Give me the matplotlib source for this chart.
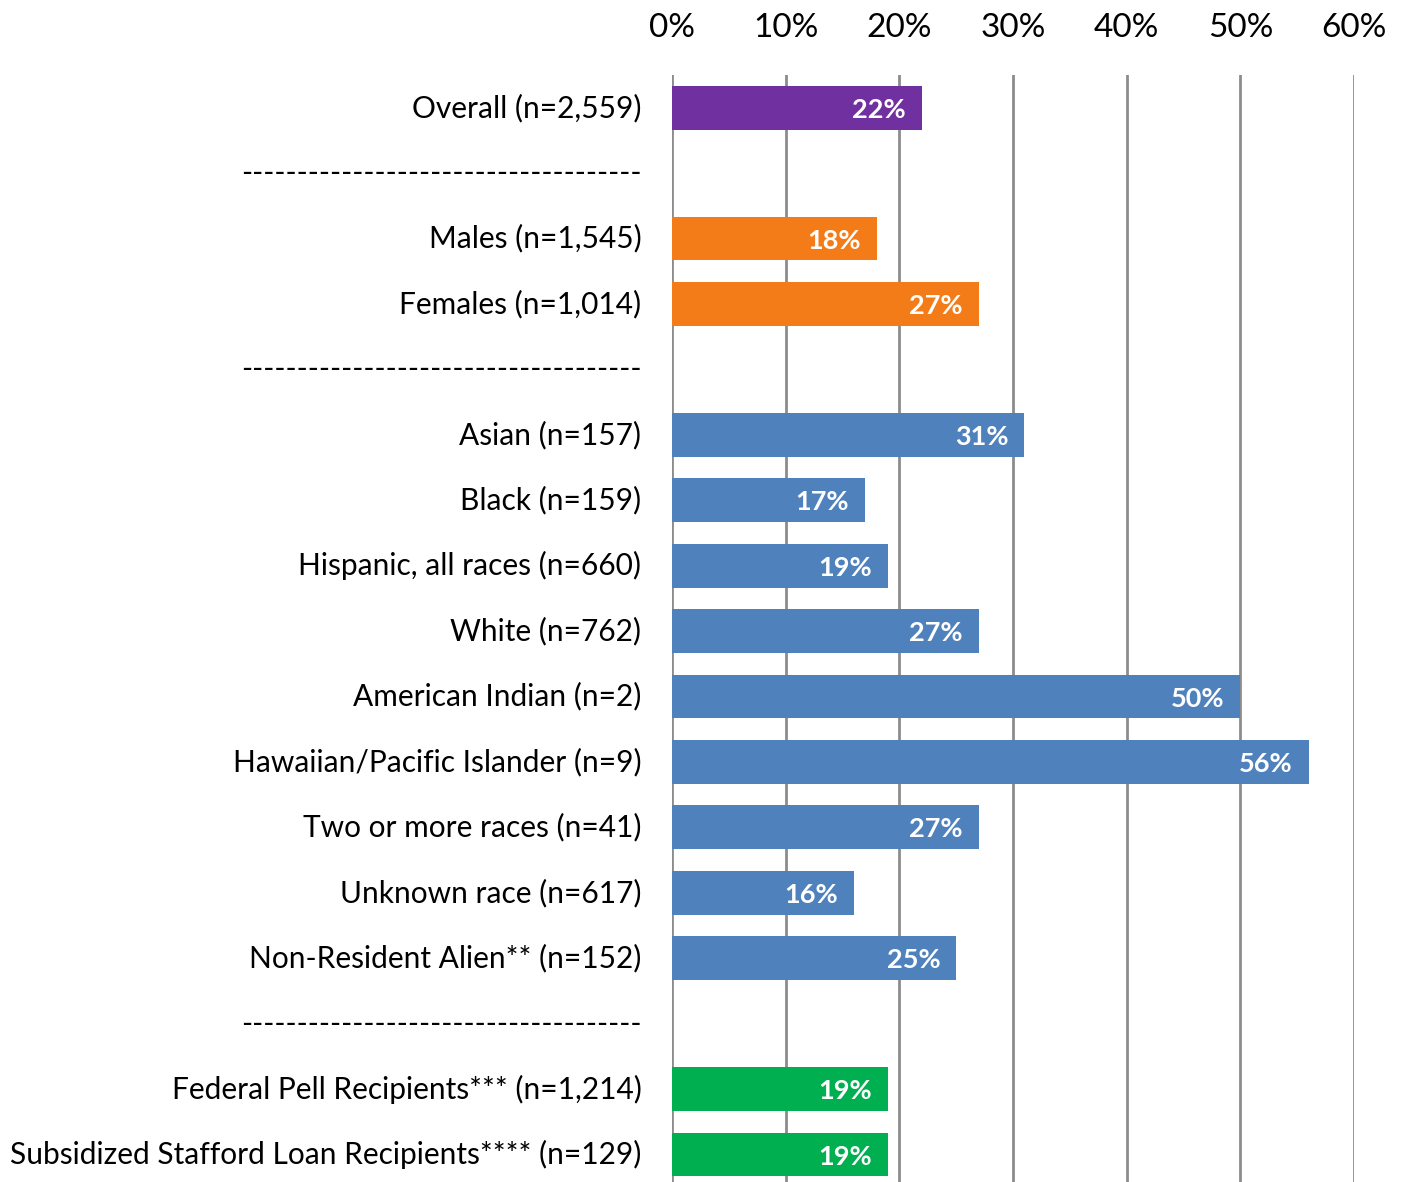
from matplotlib import pyplot as plt
import numpy as np

plt.rcParams['font.family'] = ['Lato', 'DejaVu Sans']

sep = "-" * 36
labels = ["Overall (n=2,559)", sep,
          "Males (n=1,545)", "Females (n=1,014)", sep,
          "Asian (n=157)", "Black (n=159)", "Hispanic, all races (n=660)",
          "White (n=762)", "American Indian (n=2)",
          "Hawaiian/Pacific Islander (n=9)", "Two or more races (n=41)",
          "Unknown race (n=617)", "Non-Resident Alien** (n=152)", sep,
          "Federal Pell Recipients*** (n=1,214)",
          "Subsidized Stafford Loan Recipients**** (n=129)"]
values = [22, np.nan,
          18, 27, np.nan,
          31, 17, 19, 27, 50, 56, 27, 16, 25, np.nan,
          19, 19]
groups = ["overall", None,
          "sex", "sex", None,
          "race", "race", "race", "race", "race", "race", "race", "race", "race", None,
          "aid", "aid"]
group_colors = {"overall": "#7030A0", "sex": "#F47C18", "race": "#4F81BD", "aid": "#00B050"}
xticks = [0, 10, 20, 30, 40, 50, 60]

fig = plt.figure(figsize=(14.04, 11.82), dpi=100)
ax = fig.add_axes([672 / 1404, 0.0, 682 / 1404, 1107 / 1182])

y = np.arange(len(labels))
colors = [group_colors[g] if g else "none" for g in groups]
vals = np.nan_to_num(np.array(values, dtype=float))
ax.barh(y, vals, height=0.67, color=colors, zorder=3)

for i, v in enumerate(values):
    if np.isnan(v):
        continue
    ax.annotate("%d%%" % round(v), xy=(v, i), xytext=(-11.5, 0), textcoords="offset points",
                ha="right", va="center_baseline", color="white", fontsize=19.5,
                fontweight="bold", zorder=4)

ax.set_xlim(0, 60)
ax.set_ylim(16.42, -0.5)
ax.set_xticks(xticks)
ax.set_xticklabels(["%d%%" % t for t in xticks], fontsize=24)
ax.xaxis.tick_top()
ax.tick_params(axis="x", length=0, pad=23)
ax.set_yticks(y)
ax.set_yticklabels(labels, fontsize=21.5, va="center")
ax.tick_params(axis="y", length=0, pad=22)
ax.grid(axis="x", color="#8c8c8c", linewidth=2, zorder=0)
for s in ax.spines.values():
    s.set_visible(False)

fig.savefig("out.png", dpi=100)
